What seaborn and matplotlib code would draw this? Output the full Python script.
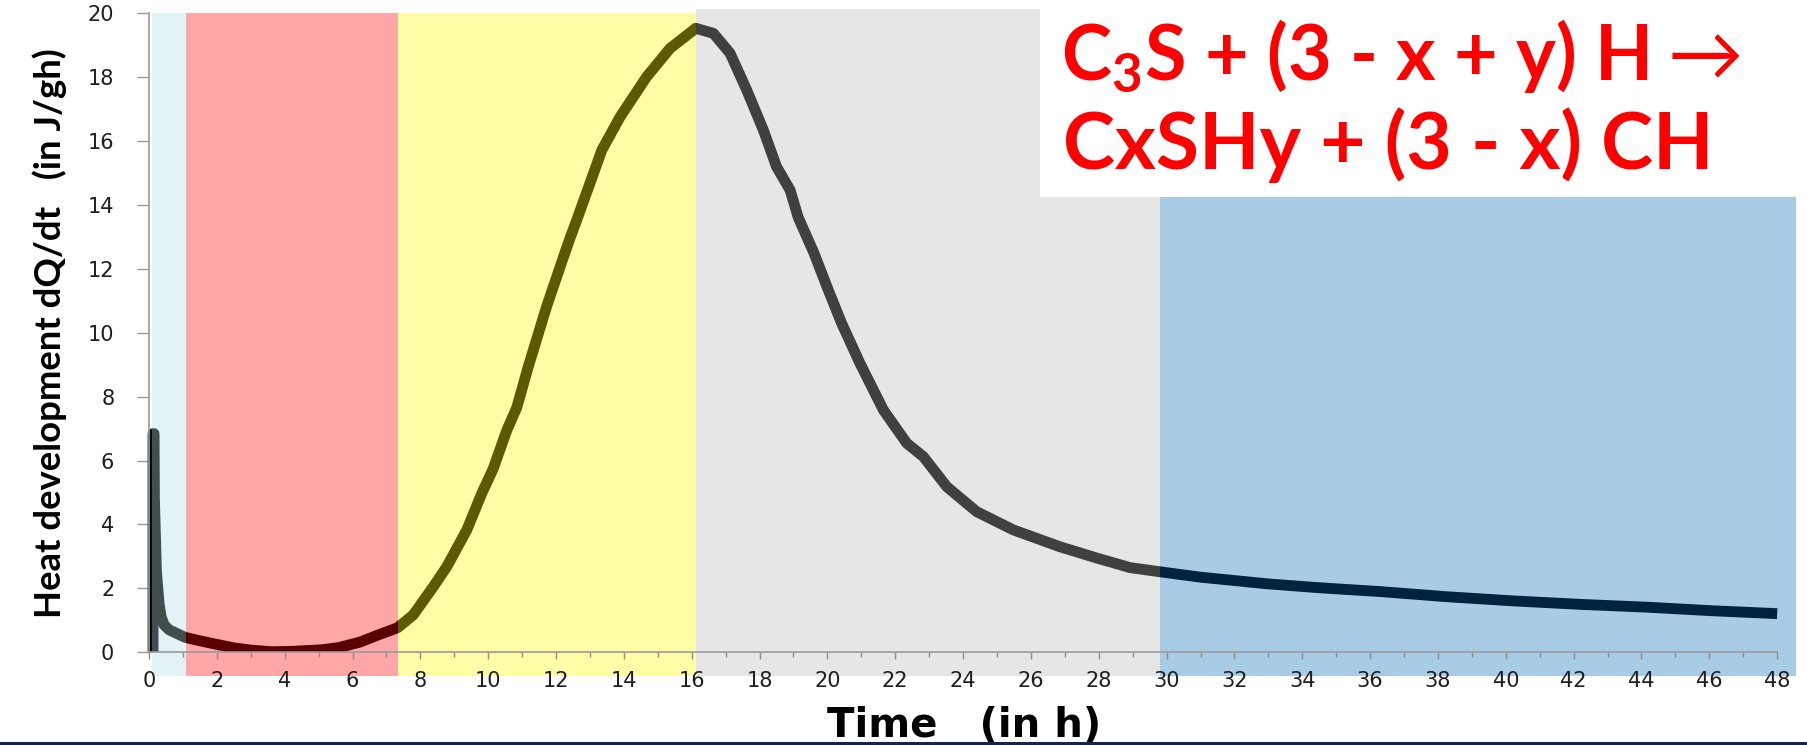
import matplotlib
matplotlib.use("Agg")
import matplotlib.pyplot as plt
from matplotlib.patches import Rectangle
import seaborn as sns
import pandas as pd

# ---------------- data ----------------
time_h = [0.12, 0.12, 0.15, 0.16, 0.22, 0.30, 0.36, 0.45, 0.6, 0.8, 1.06, 1.5, 1.9, 2.5,
          3.0, 3.6, 4.2, 5.1, 5.6, 6.22, 6.7, 7.33, 7.79, 8.38, 8.78, 9.37, 9.81, 10.15,
          10.55, 10.84, 11.18, 11.72, 12.22, 12.41, 12.61, 13.35, 13.89, 14.67, 15.36,
          16.12, 16.64, 17.13, 17.62, 18.11, 18.5, 18.9, 19.14, 19.6, 20.0, 20.42,
          20.96, 21.65, 22.34, 22.83, 23.52, 24.4, 25.48, 26.86, 27.94, 28.92, 29.8,
          31.0, 33.0, 34.5, 36.3, 38.25, 40.2, 42.2, 44.2, 46.1, 48.0]
heat_flow = [0.0, 6.84, 6.84, 4.8, 2.5, 1.5, 1.1, 0.85, 0.7, 0.6, 0.47, 0.36, 0.27, 0.14,
             0.07, 0.02, 0.03, 0.08, 0.15, 0.32, 0.52, 0.77, 1.17, 2.05, 2.68, 3.83, 4.97,
             5.75, 6.95, 7.65, 8.93, 10.81, 12.37, 12.95, 13.52, 15.71, 16.75, 18.0, 18.89,
             19.52, 19.36, 18.74, 17.59, 16.34, 15.19, 14.46, 13.6, 12.5, 11.4, 10.29,
             9.04, 7.58, 6.54, 6.12, 5.18, 4.4, 3.83, 3.3, 2.95, 2.65, 2.52,
             2.35, 2.14, 2.02, 1.9, 1.74, 1.61, 1.5, 1.41, 1.3, 1.21]

# background stage bands (hours)
band_start = [0.08, 1.08, 7.33, 16.13, 29.8]
band_end = [1.08, 7.33, 16.13, 48.55, 48.55]
band_top = [20.0, 20.0, 20.0, 20.13, 14.24]
band_fill = ["#e3f2f4", "#ffa6a6", "#fffda6", "#e6e6e6", "#a9cce6"]

# curve colour over each background
seg_start = [-0.2, 0.08, 1.08, 7.33, 16.13, 29.8]
seg_end = [0.08, 1.08, 7.33, 16.13, 29.8, 48.7]
seg_color = ["#080808", "#404e4e", "#5a0000", "#5a5a00", "#404040", "#002340"]

x_ticks = list(range(0, 49, 2))
y_ticks = list(range(0, 21, 2))

eq_line1 = "C$_\\mathbf{3}$S + (3 - x + y) H$\\rightarrow$"
eq_line2 = "CxSHy + (3 - x) CH"
x_title = "Time   (in h)"
y_title = "Heat development dQ/dt   (in J/gh)"

df = pd.DataFrame({"t": time_h, "q": heat_flow})

# ---------------- figure ----------------
sns.set_style("ticks")
plt.rcParams["font.family"] = ["DejaVu Sans"]
plt.rcParams["mathtext.fontset"] = "custom"
plt.rcParams["mathtext.rm"] = "Lato"
plt.rcParams["mathtext.bf"] = "Lato:bold"

fig = plt.figure(figsize=(18.08, 7.45), dpi=100)
ax = fig.add_axes([0.08241, 0.0922, 0.9118, 0.8969])
ax.set_xlim(0, 48.6)
ax.set_ylim(-0.75, 20.15)
ax.set_facecolor("white")

ybot = -0.75
for s, e, top, c in zip(band_start, band_end, band_top, band_fill):
    ax.fill_between([s, e], [ybot, ybot], [top, top], color=c, lw=0, zorder=0)

# white box behind the equation
ax.add_patch(Rectangle((26.27, 14.24), 48.91 - 26.27, 6.0, facecolor="white",
                       edgecolor="none", clip_on=False, zorder=0.5))

for s, e, c in zip(seg_start, seg_end, seg_color):
    sns.lineplot(data=df, x="t", y="q", ax=ax, color=c, linewidth=7.8,
                 sort=False, estimator=None, zorder=2)
    ln = ax.lines[-1]
    ln.set_solid_joinstyle("round")
    ln.set_solid_capstyle("butt")
    clip = Rectangle((s, 0), e - s, 20.15, transform=ax.transData)
    ln.set_clip_path(clip)

# axes styling
for side in ["top", "right"]:
    ax.spines[side].set_visible(False)
ax.spines["bottom"].set_position(("data", 0))
ax.spines["bottom"].set_bounds(0, 48)
ax.spines["left"].set_bounds(0, 20)
for side in ["bottom", "left"]:
    ax.spines[side].set_color("#9a9a9a")
    ax.spines[side].set_linewidth(1.2)
    ax.spines[side].set_zorder(3)

ax.set_xticks(x_ticks)
ax.set_xticks(list(range(0, 49, 1)), minor=True)
ax.set_yticks(y_ticks)
ax.set_xticklabels([str(v) for v in x_ticks])
ax.set_yticklabels([str(v) for v in y_ticks])
ax.tick_params(axis="x", which="major", direction="out", length=5.2, width=1,
               color="#8c8c8c", pad=8, labelsize=15, labelcolor="#1e1e1e")
ax.tick_params(axis="x", which="minor", direction="out", length=3.4, width=1,
               color="#8c8c8c")
ax.tick_params(axis="y", which="major", direction="out", length=9, width=1,
               color="#9a9a9a", pad=16, labelsize=15, labelcolor="#1e1e1e")

ax.set_xlabel(x_title, fontsize=29, fontweight="bold", color="black",
              family=["DejaVu Sans"])
ax.xaxis.set_label_coords(0.4944, -0.0440)
ylab = ax.set_ylabel(y_title, fontsize=30, fontweight="bold", color="black",
                     family=["Lato", "DejaVu Sans"])
ax.yaxis.set_label_coords(-0.0497, 0.514)

eq_fam = ["Lato", "DejaVu Sans"]
t1 = fig.text(1061 / 1808, (745 - 80) / 745, eq_line1, color="#ff0000", fontsize=60,
              fontweight="bold", family=eq_fam, ha="left", va="baseline")
t2 = fig.text(1063 / 1808, (745 - 169) / 745, eq_line2, color="#ff0000", fontsize=60,
              fontweight="bold", family=eq_fam, ha="left", va="baseline")

# fit text sizes to the reference extents (pixels)
renderer = fig.canvas.get_renderer()
for _ in range(3):
    for txt, target in ((t1, 680.0), (t2, 649.0)):
        w = txt.get_window_extent(renderer=renderer).width
        txt.set_fontsize(txt.get_fontsize() * target / w)
    h = ylab.get_window_extent(renderer=renderer).height
    ylab.set_fontsize(ylab.get_fontsize() * 570.0 / h)

# dark strip at the bottom edge
fig.add_artist(Rectangle((0, 0), 1, 3.5 / 745, transform=fig.transFigure,
                         facecolor="#14244a", edgecolor="none"))

fig.savefig("out.png", dpi=100)
